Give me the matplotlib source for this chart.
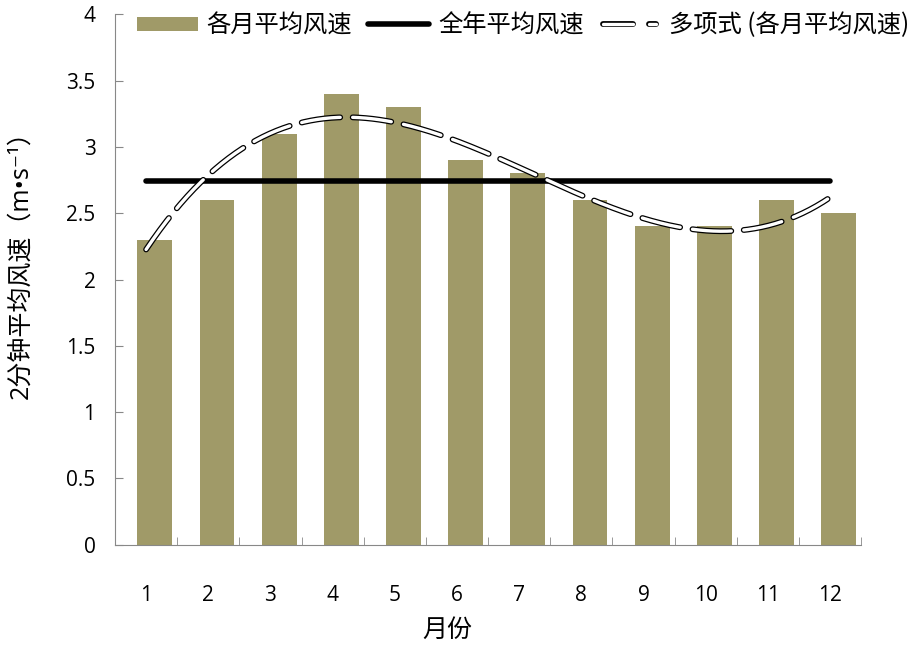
# Monthly mean 2-minute wind speed with annual mean and polynomial trend
import numpy as np
import matplotlib.pyplot as plt
from matplotlib.legend_handler import HandlerBase
from matplotlib.lines import Line2D

plt.rcParams['font.family'] = ['Noto Sans CJK SC', 'DejaVu Sans']

# Data
months = [1, 2, 3, 4, 5, 6, 7, 8, 9, 10, 11, 12]
wind_speed = [2.3, 2.6, 3.1, 3.4, 3.3, 2.9, 2.8, 2.6, 2.4, 2.4, 2.6, 2.5]
y_ticks = [0, 0.5, 1, 1.5, 2, 2.5, 3, 3.5, 4]

bar_color = '#A09A68'
axis_gray = '#888888'
latin = ['Open Sans', 'Noto Sans CJK SC', 'DejaVu Sans']

fig = plt.figure(figsize=(9.2, 6.47), dpi=100)
ax = fig.add_axes([0.125, 0.158, 0.811, 0.820])

x = np.array(months)
# bars sit a little right of the category centre, as in the original
bars = ax.bar(x + 0.14, wind_speed, width=0.56, color=bar_color, zorder=2)

# annual mean line
mean_speed = np.mean(wind_speed)
mean_line, = ax.plot([x[0], x[-1]], [mean_speed, mean_speed], color='black',
                     lw=4, solid_capstyle='round', zorder=3)

# Excel-style 3rd order polynomial trendline (white dashes with black outline)
coef = np.polyfit(x, wind_speed, 3)
xs = np.linspace(x[0], x[-1], 300)
ys = np.polyval(coef, xs)
dash_on, dash_off = 28, 9  # points
lw_out, lw_in = 4.2, 2.4
ax.plot(xs, ys, color='black', lw=lw_out, dashes=(dash_on / lw_out, dash_off / lw_out),
        dash_capstyle='round', zorder=4)
ax.plot(xs, ys, color='white', lw=lw_in, dashes=(dash_on / lw_in, dash_off / lw_in),
        dash_capstyle='round', zorder=5)


class DoubleDash(HandlerBase):
    def create_artists(self, legend, orig, xd, yd, w, h, fontsize, trans):
        y0 = h / 2 - yd
        arts = []
        for a, b in [(0.05 * w, 0.55 * w), (0.82 * w, 0.92 * w)]:
            arts.append(Line2D([a - xd, b - xd], [y0, y0], color='black', lw=lw_out,
                               solid_capstyle='round', transform=trans))
            arts.append(Line2D([a - xd, b - xd], [y0, y0], color='white', lw=lw_in,
                               solid_capstyle='round', transform=trans))
        return arts


trend_proxy = Line2D([], [])
ax.legend([bars, mean_line, trend_proxy],
          ['各月平均风速', '全年平均风速', '多项式 (各月平均风速)'],
          loc='center left', bbox_to_anchor=(0.0295, 0.979), ncol=3, frameon=False,
          borderpad=0, borderaxespad=0, fontsize=17.5, handlelength=2.5,
          handleheight=0.53, handletextpad=0.37, columnspacing=0.66,
          handler_map={trend_proxy: DoubleDash()})

ax.set_xlim(0.5, 12.5)
ax.set_ylim(0, 4)
ax.set_yticks(y_ticks)
ax.set_yticklabels([f'{v:g}' for v in y_ticks])
ax.set_xticks(months)
ax.set_xticks(np.arange(0.5, 13, 1), minor=True)
ax.tick_params(axis='x', which='major', length=0, pad=29, labelsize=15)
ax.tick_params(axis='x', which='minor', length=6, color=axis_gray, direction='in')
ax.tick_params(axis='y', length=6, color=axis_gray, direction='in', labelsize=15, pad=14)
for lab in ax.get_xticklabels() + ax.get_yticklabels():
    lab.set_family(latin)

for side in ['top', 'right']:
    ax.spines[side].set_visible(False)
for side in ['left', 'bottom']:
    ax.spines[side].set_color(axis_gray)

ax.set_xlabel('月份', fontsize=18)
ax.set_ylabel('2分钟平均风速（m•s⁻¹）', fontsize=18, family=latin)
ax.xaxis.set_label_coords(0.445, -0.135)
ax.yaxis.set_label_coords(-0.11, 0.539)

fig.savefig('out.png', dpi=100)
